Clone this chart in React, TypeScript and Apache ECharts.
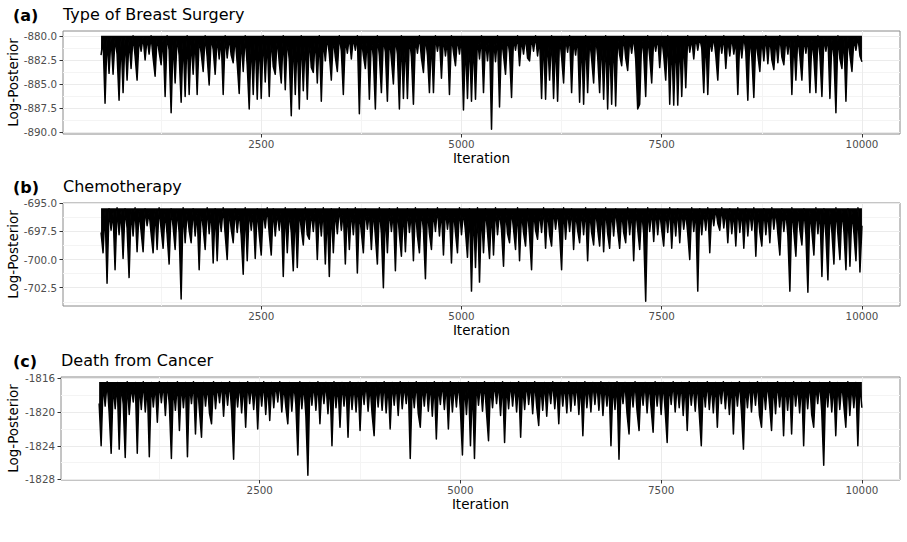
import React, { useEffect, useRef } from "react";
import * as echarts from "echarts";

// Trace sampled every 25 iterations, from iteration 500 to 10000
const ITER_START = 500;
const ITER_STEP = 25;

// Highest log-posterior reached by each chain (ceiling of the dense band)
const surgeryCeiling = -880.0;
const chemoCeiling = -695.45;
const deathCeiling = -1816.45;

const surgery = [
  -882.0, -880.4, -887.0, -880.2, -883.9, -880.1, -884.0, -880.3, -881.9, -886.7, -880.2, -885.9, -880.1, -884.6, -880.4, -883.4, -880.0, -882.1, -884.6, -880.3,
  -881.6, -880.1, -882.5, -880.2, -881.9, -880.0, -882.3, -884.2, -880.1, -881.7, -883.0, -880.2, -886.3, -880.0, -881.5, -888.0, -880.3, -884.9, -880.1, -882.0,
  -886.9, -880.2, -886.3, -880.0, -886.1, -880.4, -884.0, -880.1, -886.1, -880.3, -881.8, -883.7, -880.0, -882.2, -885.1, -880.2, -881.4, -884.0, -880.1, -882.4,
  -880.3, -886.1, -880.0, -882.3, -880.2, -882.0, -882.8, -880.1, -882.9, -886.0, -880.2, -883.7, -880.0, -883.1, -887.6, -880.3, -886.1, -880.1, -886.6, -880.2,
  -886.5, -880.0, -884.8, -880.4, -886.3, -880.1, -883.2, -884.0, -880.2, -882.8, -884.9, -880.0, -885.6, -880.3, -882.5, -888.3, -880.1, -886.1, -880.2, -887.6,
  -880.0, -885.7, -880.3, -886.6, -880.1, -883.3, -883.8, -880.2, -884.9, -880.0, -886.8, -880.4, -882.6, -880.1, -881.9, -884.6, -880.2, -882.2, -883.7, -880.0,
  -881.6, -886.1, -880.3, -881.8, -880.1, -882.4, -880.2, -881.5, -880.0, -888.1, -880.3, -882.0, -883.4, -880.1, -886.6, -880.2, -882.3, -887.6, -880.0, -882.1,
  -885.9, -880.3, -881.7, -886.8, -880.1, -882.4, -885.0, -880.2, -881.9, -887.6, -880.0, -886.5, -880.3, -886.5, -880.1, -882.2, -887.1, -880.2, -881.8, -880.0,
  -882.3, -883.8, -880.1, -882.0, -885.9, -880.3, -885.9, -880.0, -881.6, -880.2, -884.4, -880.1, -882.1, -880.4, -886.1, -880.0, -881.7, -883.1, -880.2, -881.9,
  -880.1, -887.7, -880.6, -886.5, -880.3, -886.8, -880.5, -886.6, -880.2, -882.4, -880.0, -885.9, -880.3, -882.6, -880.1, -889.7, -880.2, -882.7, -880.0, -887.4,
  -880.3, -882.0, -884.0, -880.1, -881.8, -886.4, -880.2, -881.5, -880.0, -883.1, -880.4, -881.9, -880.1, -882.3, -882.6, -880.2, -881.6, -880.0, -882.1, -880.3,
  -886.5, -880.1, -886.6, -880.2, -884.6, -880.0, -886.5, -880.3, -886.8, -880.1, -882.2, -884.9, -880.2, -881.7, -880.0, -885.9, -880.4, -882.0, -880.1, -886.9,
  -880.2, -887.1, -880.0, -885.9, -880.3, -882.4, -884.9, -880.1, -882.1, -885.9, -880.2, -886.6, -880.0, -887.6, -880.3, -887.1, -880.1, -887.3, -880.2, -882.0,
  -883.1, -880.0, -882.3, -883.6, -880.3, -881.8, -880.1, -882.4, -887.6, -887.1, -880.2, -881.9, -886.3, -880.0, -882.2, -884.9, -880.3, -881.6, -880.1, -883.3,
  -880.2, -882.0, -884.6, -880.0, -887.1, -880.4, -887.2, -880.1, -887.2, -880.3, -886.3, -880.2, -885.4, -880.0, -881.7, -880.3, -882.4, -880.1, -881.5, -880.2,
  -881.3, -885.9, -880.0, -886.1, -880.3, -881.6, -880.1, -882.0, -884.6, -880.2, -881.8, -880.0, -883.4, -880.3, -882.1, -880.1, -881.9, -880.4, -886.1, -880.2,
  -882.3, -880.0, -881.7, -886.7, -880.1, -882.2, -886.4, -880.3, -882.0, -883.7, -880.2, -882.6, -880.0, -882.9, -880.1, -882.5, -883.5, -880.3, -882.8, -880.0,
  -882.2, -883.0, -880.2, -881.9, -880.1, -886.1, -880.3, -884.6, -880.0, -882.1, -884.6, -880.2, -881.8, -880.1, -885.9, -880.4, -882.3, -885.9, -880.0, -882.0,
  -886.3, -880.2, -881.6, -880.1, -886.5, -880.3, -882.2, -888.0, -880.0, -882.4, -883.4, -880.2, -886.8, -880.1, -882.0, -883.7, -880.3, -881.5, -880.1, -882.1, -882.7,
];

const chemo = [
  -697.6, -699.4, -695.6, -702.1, -695.5, -697.4, -695.8, -700.9, -695.4, -697.8, -695.7, -699.9, -695.5, -697.2, -701.6, -695.6, -697.9, -695.4, -699.3, -695.7,
  -697.5, -699.3, -695.5, -697.0, -695.8, -697.7, -699.4, -695.6, -699.1, -695.4, -697.3, -699.0, -695.7, -697.8, -700.4, -695.5, -697.1, -699.1, -695.6, -697.6,
  -703.5, -695.4, -698.5, -695.7, -697.4, -698.5, -695.5, -697.9, -695.8, -700.9, -695.6, -697.2, -699.1, -695.4, -697.7, -695.6, -700.3, -695.5, -700.1, -695.7,
  -697.5, -695.4, -697.8, -700.0, -695.6, -697.3, -698.5, -695.5, -697.6, -695.8, -697.9, -701.3, -695.4, -700.1, -695.6, -697.4, -695.7, -699.9, -695.5, -697.8,
  -699.6, -695.6, -697.2, -695.4, -697.7, -699.6, -695.5, -697.9, -695.8, -697.4, -695.6, -701.5, -695.4, -699.4, -695.7, -697.6, -701.0, -695.5, -700.7, -695.6,
  -697.3, -698.7, -695.4, -697.8, -698.2, -695.7, -697.5, -695.5, -700.0, -695.6, -697.9, -695.4, -700.4, -695.8, -701.5, -695.5, -699.4, -695.6, -697.7, -695.4,
  -697.4, -695.7, -700.4, -695.5, -699.1, -695.6, -697.8, -695.4, -701.2, -695.7, -697.6, -699.4, -695.5, -697.3, -695.8, -699.1, -695.6, -697.9, -700.4, -695.4,
  -697.7, -702.5, -695.6, -699.4, -695.5, -697.5, -695.7, -701.0, -695.4, -697.8, -699.7, -695.6, -699.3, -695.5, -697.6, -695.8, -700.1, -695.4, -697.9, -699.4,
  -695.6, -697.4, -701.7, -695.5, -697.7, -699.1, -695.7, -697.5, -695.4, -697.9, -695.6, -699.6, -695.5, -697.3, -695.8, -700.3, -695.6, -697.6, -699.4, -695.4,
  -697.8, -695.7, -697.5, -699.8, -695.5, -702.8, -695.6, -700.7, -695.4, -702.0, -695.7, -699.4, -695.5, -697.6, -699.9, -695.6, -699.6, -695.4, -697.8, -695.7,
  -697.4, -700.6, -695.5, -697.7, -698.5, -695.6, -697.3, -699.1, -695.4, -700.1, -695.8, -697.6, -698.8, -695.5, -697.9, -700.9, -695.6, -697.4, -698.2, -695.7,
  -697.6, -695.4, -699.0, -695.6, -697.8, -698.8, -695.5, -697.3, -695.7, -697.7, -700.9, -695.4, -698.2, -695.6, -697.5, -695.5, -699.1, -695.8, -697.4, -698.5,
  -695.6, -697.8, -695.4, -700.1, -695.7, -697.6, -698.7, -695.5, -697.3, -698.8, -695.6, -699.3, -695.4, -697.7, -699.0, -695.6, -697.9, -695.5, -697.4, -699.0,
  -695.7, -697.6, -698.5, -695.4, -697.8, -695.6, -700.1, -695.5, -697.3, -699.1, -695.7, -697.7, -703.7, -695.4, -697.5, -695.6, -698.4, -695.5, -697.8, -695.7,
  -697.4, -698.8, -695.6, -697.6, -695.4, -699.0, -695.7, -697.9, -695.5, -698.5, -695.6, -697.3, -695.8, -697.7, -700.0, -695.4, -697.5, -695.6, -702.8, -695.5,
  -697.8, -695.7, -697.4, -695.4, -699.4, -695.6, -697.0, -695.5, -696.8, -697.4, -695.4, -697.2, -695.6, -698.5, -695.5, -697.7, -695.7, -698.8, -695.4, -697.6,
  -695.6, -699.0, -695.5, -697.9, -695.7, -697.4, -695.4, -699.7, -695.6, -697.6, -698.8, -695.5, -697.8, -695.7, -698.5, -695.4, -697.3, -695.6, -697.7, -699.6,
  -695.5, -697.5, -695.7, -697.9, -702.8, -695.4, -697.6, -699.7, -695.6, -697.4, -698.7, -695.5, -697.8, -702.9, -695.7, -697.5, -699.6, -695.4, -697.7, -695.6,
  -701.5, -695.5, -697.9, -701.8, -695.7, -697.6, -700.4, -695.4, -697.8, -700.0, -695.6, -697.5, -700.9, -695.5, -700.6, -695.7, -697.7, -700.1, -695.4, -701.1, -697.0,
];

const death = [
  -1819.0, -1824.0, -1816.6, -1819.3, -1816.4, -1820.1, -1824.9, -1816.8, -1819.6, -1816.5, -1824.4, -1816.7, -1819.1, -1825.4, -1816.4, -1820.3, -1816.9, -1818.8, -1816.5, -1824.9,
  -1816.6, -1819.7, -1816.4, -1820.0, -1816.8, -1825.3, -1816.5, -1819.4, -1816.7, -1821.2, -1816.4, -1818.9, -1816.6, -1820.4, -1816.5, -1819.2, -1825.5, -1816.8, -1819.8, -1816.4,
  -1822.2, -1816.6, -1819.5, -1816.5, -1825.3, -1816.7, -1819.0, -1816.4, -1822.6, -1816.6, -1819.9, -1823.0, -1816.5, -1819.3, -1816.8, -1820.2, -1821.4, -1816.4, -1819.6, -1816.7,
  -1818.9, -1816.5, -1820.5, -1816.6, -1819.2, -1816.4, -1819.8, -1825.6, -1816.7, -1819.4, -1816.5, -1820.1, -1816.6, -1821.8, -1816.4, -1819.0, -1816.8, -1819.7, -1816.5, -1822.0,
  -1816.6, -1819.3, -1816.4, -1820.3, -1816.7, -1821.0, -1816.5, -1819.5, -1816.6, -1818.8, -1816.4, -1820.0, -1816.8, -1819.4, -1821.4, -1816.5, -1819.9, -1816.6, -1819.1, -1825.1,
  -1816.4, -1819.6, -1816.7, -1820.4, -1827.5, -1816.5, -1819.2, -1816.6, -1819.8, -1816.4, -1821.4, -1816.7, -1819.0, -1816.5, -1820.2, -1816.6, -1824.0, -1816.4, -1819.5, -1816.8,
  -1821.8, -1816.5, -1819.3, -1816.6, -1823.0, -1816.4, -1819.7, -1816.7, -1820.0, -1816.5, -1822.2, -1816.6, -1819.1, -1816.4, -1819.9, -1816.8, -1820.3, -1822.8, -1816.5, -1819.4,
  -1816.6, -1819.8, -1816.4, -1820.1, -1816.7, -1822.0, -1816.5, -1819.2, -1816.6, -1820.4, -1816.4, -1819.6, -1816.8, -1819.0, -1816.5, -1825.5, -1816.6, -1819.5, -1816.4, -1820.2,
  -1821.8, -1816.7, -1819.3, -1816.5, -1819.9, -1816.6, -1820.5, -1816.4, -1823.2, -1816.8, -1819.1, -1816.5, -1819.7, -1816.6, -1822.0, -1816.4, -1820.0, -1816.7, -1819.4, -1816.5,
  -1819.8, -1825.1, -1816.6, -1820.3, -1816.4, -1824.0, -1816.7, -1825.5, -1816.5, -1819.2, -1816.6, -1819.9, -1816.4, -1820.1, -1823.4, -1816.8, -1819.5, -1816.5, -1819.0, -1816.6,
  -1820.4, -1816.4, -1823.6, -1816.7, -1819.6, -1816.5, -1819.3, -1816.6, -1820.0, -1816.4, -1823.0, -1816.8, -1819.7, -1816.5, -1819.1, -1816.6, -1820.2, -1816.4, -1819.4, -1821.6,
  -1816.7, -1819.8, -1816.5, -1820.5, -1816.6, -1819.0, -1816.4, -1819.6, -1816.8, -1821.4, -1816.5, -1819.3, -1816.6, -1820.1, -1816.4, -1819.9, -1816.7, -1819.2, -1816.5, -1820.3,
  -1816.6, -1822.8, -1816.4, -1819.5, -1816.7, -1820.0, -1816.5, -1819.1, -1816.6, -1819.8, -1816.4, -1820.4, -1816.8, -1819.3, -1816.5, -1824.0, -1816.6, -1819.7, -1816.4, -1825.6,
  -1816.7, -1819.0, -1816.5, -1820.2, -1822.6, -1816.6, -1819.4, -1816.4, -1819.9, -1822.2, -1816.8, -1819.2, -1816.5, -1820.1, -1816.6, -1819.6, -1822.4, -1816.4, -1819.3, -1816.7,
  -1820.3, -1816.5, -1819.8, -1823.6, -1816.6, -1819.1, -1816.4, -1820.0, -1816.7, -1819.5, -1816.5, -1820.4, -1816.6, -1822.2, -1816.4, -1819.2, -1816.8, -1819.9, -1816.5, -1820.2,
  -1824.0, -1816.6, -1819.4, -1816.4, -1819.7, -1816.7, -1820.1, -1816.5, -1821.8, -1816.6, -1819.0, -1816.4, -1819.6, -1816.8, -1820.3, -1816.5, -1822.6, -1816.6, -1819.3, -1816.4,
  -1819.9, -1824.4, -1816.7, -1819.5, -1816.5, -1820.0, -1816.6, -1819.2, -1816.4, -1820.4, -1821.8, -1816.8, -1819.7, -1816.5, -1819.1, -1822.2, -1816.6, -1820.2, -1816.4, -1819.4,
  -1816.7, -1822.8, -1816.5, -1819.8, -1816.6, -1822.6, -1816.4, -1819.3, -1816.8, -1820.1, -1816.5, -1824.0, -1816.6, -1819.6, -1816.4, -1820.3, -1821.8, -1816.7, -1819.0, -1816.5,
  -1819.9, -1826.3, -1816.6, -1819.4, -1816.4, -1820.0, -1816.7, -1822.8, -1816.5, -1819.7, -1816.6, -1819.2, -1821.8, -1816.4, -1820.4, -1816.8, -1819.5, -1816.5, -1824.0, -1816.6, -1819.5,
];

const titles = ["Type of Breast Surgery", "Chemotherapy", "Death from Cancer"];
const tags = ["(a)", "(b)", "(c)"];

const xTicks = [2500, 5000, 7500, 10000];
const xMinor = [1250, 3750, 6250, 8750];

const yTicksA = [-890, -887.5, -885, -882.5, -880];
const yMinorA = [-888.75, -886.25, -883.75, -881.25];
const yTicksB = [-702.5, -700, -697.5, -695];
const yMinorB = [-703.75, -701.25, -698.75, -696.25];
const yTicksC = [-1828, -1824, -1820, -1816];
const yMinorC = [-1826, -1822, -1818];

const FONT = "DejaVu Sans";

export default function App() {
  const ref = useRef<HTMLDivElement>(null);

  useEffect(() => {
    if (!ref.current) return;
    const chart = echarts.init(ref.current, null, { renderer: "svg" });

    const panels = [
      { values: surgery, ceiling: surgeryCeiling, yTicks: yTicksA, yMinor: yMinorA, ymin: -890.2, ymax: -879.5, dec: 1, left: 63, top: 31, height: 103 },
      { values: chemo, ceiling: chemoCeiling, yTicks: yTicksB, yMinor: yMinorB, ymin: -704.12, ymax: -694.98, dec: 1, left: 63, top: 203, height: 103 },
      { values: death, ceiling: deathCeiling, yTicks: yTicksC, yMinor: yMinorC, ymin: -1828.06, ymax: -1815.85, dec: 0, left: 61, top: 377, height: 103 },
    ];
    const RIGHT = 7;
    const W = 907;

    const grid: any[] = [];
    const xAxis: any[] = [];
    const yAxis: any[] = [];
    const series: any[] = [];
    const graphic: any[] = [];

    panels.forEach((p, k) => {
      grid.push({
        left: p.left,
        top: p.top,
        right: RIGHT,
        height: p.height,
        show: true,
        borderColor: "#8a8a8a",
        borderWidth: 1,
        backgroundColor: "transparent",
        z: 0,
      });
      xAxis.push({
        type: "value",
        gridIndex: k,
        min: 25,
        max: 10475,
        axisLine: { show: false },
        splitLine: { show: false },
        axisTick: { show: true, customValues: xTicks, length: 3.5, lineStyle: { color: "#333333", width: 1 } },
        axisLabel: {
          customValues: xTicks,
          color: "#4d4d4d",
          fontSize: 10.3,
          fontFamily: FONT,
          margin: 5,
          formatter: (v: number) => String(v),
        },
      });
      yAxis.push({
        type: "value",
        gridIndex: k,
        min: p.ymin,
        max: p.ymax,
        axisLine: { show: false },
        splitLine: { show: false },
        axisTick: { show: true, customValues: p.yTicks, length: 3.5, lineStyle: { color: "#333333", width: 1 } },
        axisLabel: {
          customValues: p.yTicks,
          color: "#4d4d4d",
          fontSize: 10.3,
          fontFamily: FONT,
          margin: 6,
          formatter: (v: number) => v.toFixed(p.dec),
        },
      });

      const lines: any[] = [];
      p.yMinor.forEach((v) => lines.push({ yAxis: v, lineStyle: { color: "#f4f4f4", width: 1, type: "solid" } }));
      xMinor.forEach((v) => lines.push({ xAxis: v, lineStyle: { color: "#f4f4f4", width: 1, type: "solid" } }));
      p.yTicks.forEach((v) => lines.push({ yAxis: v, lineStyle: { color: "#ebebeb", width: 1, type: "solid" } }));
      xTicks.forEach((v) => lines.push({ xAxis: v, lineStyle: { color: "#ebebeb", width: 1, type: "solid" } }));

      series.push({
        type: "line",
        xAxisIndex: k,
        yAxisIndex: k,
        data: [],
        z: 1,
        silent: true,
        markLine: {
          silent: true,
          z: 1,
          symbol: ["none", "none"],
          label: { show: false },
          emphasis: { disabled: true },
          data: lines,
        },
      });

      series.push({
        type: "line",
        xAxisIndex: k,
        yAxisIndex: k,
        z: 10,
        silent: true,
        showSymbol: false,
        symbol: "none",
        lineStyle: { color: "#000000", width: 1.5, join: "round" },
        areaStyle: { color: "#000000", opacity: 1, origin: p.ceiling },
        data: p.values.map((v, i) => [ITER_START + i * ITER_STEP, v]),
      });

      const titleY = p.top - 16;
      graphic.push({
        type: "text",
        left: 13,
        top: titleY - 8,
        style: { text: tags[k], font: `bold 16px "${FONT}"`, fill: "#000" },
      });
      graphic.push({
        type: "text",
        left: p.left,
        top: titleY - 9,
        style: { text: titles[k], font: `16px "${FONT}"`, fill: "#000" },
      });
      graphic.push({
        type: "text",
        x: 13,
        y: p.top + p.height / 2,
        rotation: Math.PI / 2,
        style: {
          text: "Log-Posterior",
          font: `13.5px "${FONT}"`,
          fill: "#000",
          align: "center",
          verticalAlign: "middle",
        },
      });
      graphic.push({
        type: "text",
        x: (p.left + (W - RIGHT)) / 2,
        y: p.top + p.height + 24,
        style: {
          text: "Iteration",
          font: `13.5px "${FONT}"`,
          fill: "#000",
          align: "center",
          verticalAlign: "middle",
        },
      });
    });

    chart.setOption({
      animation: false,
      backgroundColor: "#ffffff",
      textStyle: { fontFamily: FONT },
      grid,
      xAxis,
      yAxis,
      series,
      graphic,
    });

    return () => chart.dispose();
  }, []);

  return (
    <div
      ref={ref}
      style={{ position: "fixed", left: 0, top: 0, width: 907, height: 542, background: "#fff" }}
    />
  );
}
